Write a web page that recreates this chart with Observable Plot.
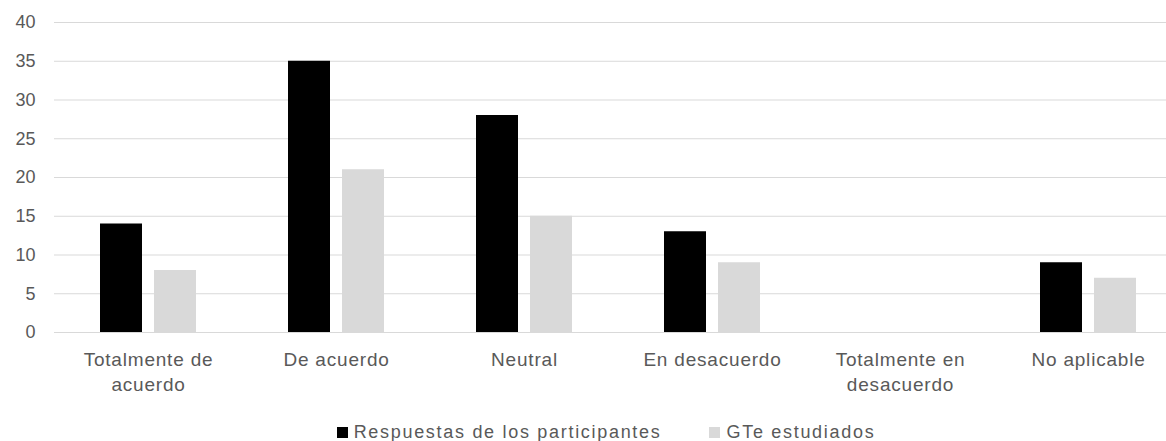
<!DOCTYPE html>
<html>
<head>
<meta charset="utf-8">
<script src="https://cdn.jsdelivr.net/npm/d3@7"></script>
<script src="https://cdn.jsdelivr.net/npm/@observablehq/plot@0.6"></script>
<style>
  html, body { margin: 0; padding: 0; background: #fff; }
  #chart { width: 1166px; }
  .legend { display: flex; justify-content: center; align-items: center; height: 36px; padding-top: 18px; padding-left: 46px; box-sizing: border-box;
    font-family: "Liberation Sans", Arial, sans-serif; font-size: 18px; letter-spacing: 1.7px; color: #595959; gap: 48px; }
  .legend .item { display: flex; align-items: center; }
  .legend .sw { width: 11px; height: 11px; margin-right: 6px; }
</style>
</head>
<body>
<div id="chart"></div>
<script>
const categories = ["Totalmente de acuerdo", "De acuerdo", "Neutral", "En desacuerdo", "Totalmente en desacuerdo", "No aplicable"];
const tickLabels = ["Totalmente de\nacuerdo", "De acuerdo", "Neutral", "En desacuerdo", "Totalmente en\ndesacuerdo", "No aplicable"];
const respuestas = [14, 35, 28, 13, 0, 9];
const gte = [8, 21, 15, 9, 0, 7];
const seriesNames = ["Respuestas de los participantes", "GTe estudiados"];
const seriesColors = ["#000000", "#d9d9d9"];
const yTicks = [0, 5, 10, 15, 20, 25, 30, 35, 40];

const rowsA = categories.map((c, i) => ({category: c, value: respuestas[i]}));
const rowsB = categories.map((c, i) => ({category: c, value: gte[i]}));

const plot = Plot.plot({
  width: 1166,
  height: 405,
  marginLeft: 54,
  marginRight: 0,
  marginTop: 22,
  marginBottom: 73,
  style: {fontFamily: "'Liberation Sans', Arial, sans-serif", color: "#595959", background: "#fff"},
  x: {domain: categories, range: [54, 1182], paddingInner: 0.7766, paddingOuter: 0.3883, label: null},
  y: {domain: [0, 40], label: null},
  marks: [
    Plot.ruleY(yTicks, {stroke: "#d9d9d9", strokeWidth: 1}),
    Plot.barY(rowsA, {x: "category", y: "value", fill: seriesColors[0], dx: -27}),
    Plot.barY(rowsB, {x: "category", y: "value", fill: seriesColors[1], dx: 27}),
    Plot.axisY({ticks: yTicks, tickSize: 0, tickPadding: 19, fontSize: 18, fill: "#595959", label: null}),
    Plot.axisX({tickSize: 0, tickPadding: 16, fontSize: 19, fill: "#595959", lineHeight: 1.3, label: null,
      tickFormat: d => tickLabels[categories.indexOf(d)]})
  ]
});
plot.querySelectorAll("text").forEach(t => { if (t.closest("g[aria-label='x-axis tick label']")) t.style.letterSpacing = "0.8px"; });
document.getElementById("chart").appendChild(plot);

const legend = document.createElement("div");
legend.className = "legend";
seriesNames.forEach((name, i) => {
  const item = document.createElement("div");
  item.className = "item";
  const sw = document.createElement("span");
  sw.className = "sw";
  sw.style.background = seriesColors[i];
  const label = document.createElement("span");
  label.textContent = name;
  item.appendChild(sw);
  item.appendChild(label);
  legend.appendChild(item);
});
document.getElementById("chart").appendChild(legend);
</script>
</body>
</html>
